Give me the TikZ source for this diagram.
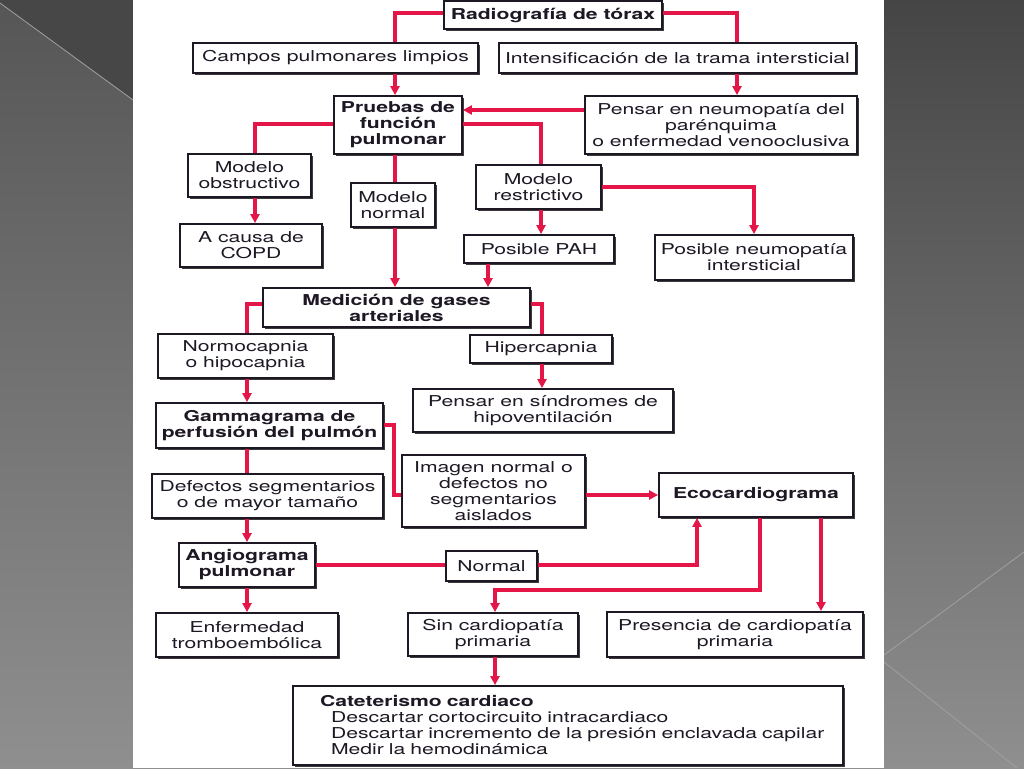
\documentclass[tikz,border=0pt]{standalone}
\usepackage{fontspec}
\setmainfont{TeX Gyre Heros}[FakeStretch=1.41]
\usetikzlibrary{arrows.meta,shadows}
\definecolor{redc}{RGB}{228,22,72}
\definecolor{inkc}{RGB}{30,24,36}
\definecolor{bgtop}{RGB}{69,69,69}
\definecolor{bgbot}{RGB}{143,143,143}
\definecolor{bgltop}{RGB}{86,86,86}
\definecolor{bgdark}{RGB}{71,71,71}
\definecolor{linec}{RGB}{160,160,160}
\begin{document}
\begin{tikzpicture}[x=1pt,y=-1pt,
  box/.style={draw=inkc, line width=1.8pt, fill=white, text=inkc, inner sep=0pt, align=center,
    font=\fontsize{15pt}{16pt}\selectfont,
    drop shadow={shadow xshift=1.8pt, shadow yshift=-1.8pt, fill=black!85, opacity=0.9}},
  bbox/.style={box, font=\fontsize{15pt}{16pt}\selectfont\bfseries},
  conn/.style={draw=redc, line width=3.2pt},
  arr/.style={conn, -{Triangle[length=9pt,width=9pt]}},
  deco/.style={draw=linec, line width=0.8pt}]
\useasboundingbox (0,0) rectangle (1024,768);
% background
\shade[top color=bgtop, bottom color=bgbot] (0,0) rectangle (1024,768);
\fill[bgdark] (0,0) -- (133,0) -- (133,100) -- (0,3) -- cycle;
\shade[top color=bgltop, bottom color=bgbot] (0,3) -- (133,100) -- (133,768) -- (0,768) -- cycle;
\draw[deco] (0,3) -- (133,100);
\draw[deco] (1024,552) -- (884,655);
\draw[deco] (884,662) -- (1017,768);
\fill[white] (133,0) rectangle (884,768);

% nodes
\node[bbox, minimum width=218pt, minimum height=28pt] (rad) at (553,15) {Radiografía de tórax};
\node[box, minimum width=285pt, minimum height=30pt] (campos) at (335.5,58) {Campos pulmonares limpios};
\node[box, minimum width=357pt, minimum height=30pt] (inten) at (677.5,58) {Intensificación de la trama intersticial};
\node[bbox, minimum width=128pt, minimum height=58pt] (pruebas) at (398,125) {Pruebas de\\función\\pulmonar};
\node[box, minimum width=272pt, minimum height=58pt] (pensar) at (721,125) {Pensar en neumopatía del\\parénquima\\o enfermedad venooclusiva};
\node[box, minimum width=123pt, minimum height=43pt] (obstr) at (249.5,175.5) {Modelo\\obstructivo};
\node[box, minimum width=84pt, minimum height=44pt] (normal) at (393,205) {Modelo\\normal};
\node[box, minimum width=125pt, minimum height=44pt] (restr) at (538.5,187) {Modelo\\restrictivo};
\node[box, minimum width=142pt, minimum height=43pt] (copd) at (251,245.5) {A causa de\\COPD};
\node[box, minimum width=150pt, minimum height=28pt] (pah) at (539,249) {Posible PAH};
\node[box, minimum width=198pt, minimum height=45pt] (neumo) at (754,257.5) {Posible neumopatía\\intersticial};
\node[bbox, minimum width=267pt, minimum height=39pt] (medicion) at (396.5,307.5) {Medición de gases\\arteriales};
\node[box, minimum width=175pt, minimum height=44pt] (normo) at (245.5,356) {Normocapnia\\o hipocapnia};
\node[box, minimum width=142pt, minimum height=28pt] (hiper) at (541,349) {Hipercapnia};
\node[box, minimum width=260pt, minimum height=43pt] (sindr) at (543,410.5) {Pensar en síndromes de\\hipoventilación};
\node[bbox, minimum width=227pt, minimum height=45pt] (gamma) at (269.5,425.5) {Gammagrama de\\perfusión del pulmón};
\node[box, minimum width=183pt, minimum height=72pt] (imagen) at (493.5,491) {Imagen normal o\\defectos no\\segmentarios\\aislados};
\node[bbox, minimum width=194pt, minimum height=44pt] (eco) at (756,495) {Ecocardiograma};
\node[box, minimum width=231pt, minimum height=44pt] (defectos) at (267.5,496) {Defectos segmentarios\\o de mayor tamaño};
\node[bbox, minimum width=136pt, minimum height=44pt] (angio) at (247,565) {Angiograma\\pulmonar};
\node[box, minimum width=91pt, minimum height=30pt] (normalB) at (491.5,566) {Normal};
\node[box, minimum width=182pt, minimum height=44pt] (trombo) at (247,635) {Enfermedad\\tromboembólica};
\node[box, minimum width=170pt, minimum height=43pt] (sin) at (493,634.5) {Sin cardiopatía\\primaria};
\node[box, minimum width=256pt, minimum height=45pt] (presencia) at (735,634.5) {Presencia de cardiopatía\\primaria};
\node[box, minimum width=550pt, minimum height=79pt, inner xsep=27pt, text width=496pt, align=left] (cat) at (568,725.5)
  {\mbox{\textbf{Cateterismo cardiaco}}\\\mbox{\hspace*{11pt}Descartar cortocircuito intracardiaco}\\\mbox{\hspace*{11pt}Descartar incremento de la presión enclavada capilar}\\\mbox{\hspace*{11pt}Medir la hemodinámica}};

% guide coordinates
\coordinate (gx247) at (247,0);
\coordinate (gx255) at (255,0);
\coordinate (gx394) at (394,0);
\coordinate (gx395) at (395,0);
\coordinate (gx488) at (488,0);
\coordinate (gx495) at (495,0);
\coordinate (gx541) at (541,0);
\coordinate (gx542) at (542,0);
\coordinate (gx697) at (697,0);
\coordinate (gx737) at (737,0);
\coordinate (gx754) at (754,0);
\coordinate (gx760) at (760,0);
\coordinate (gx821) at (821,0);
\coordinate (gy13) at (0,13);
\coordinate (gy110) at (0,110);
\coordinate (gy124) at (0,124);
\coordinate (gy187) at (0,187);
\coordinate (gy304) at (0,304);
\coordinate (gy425) at (0,425);
\coordinate (gy495) at (0,495);
\coordinate (gy565) at (0,565);
\coordinate (gy590) at (0,590);

% connectors
\draw[conn] (rad.west |- gy13) -| (campos.north -| gx395);
\draw[conn] (rad.east |- gy13) -| (inten.north -| gx737);
\draw[arr] (campos.south -| gx395) -- (pruebas.north -| gx395);
\draw[arr] (inten.south -| gx737) -- (pensar.north -| gx737);
\draw[arr] (pensar.west |- gy110) -- (pruebas.east |- gy110);
\draw[conn] (pruebas.west |- gy124) -| (obstr.north -| gx255);
\draw[conn] (pruebas.east |- gy124) -| (restr.north -| gx541);
\draw[conn] (pruebas.south -| gx395) -- (normal.north -| gx395);
\draw[arr] (obstr.south -| gx255) -- (copd.north -| gx255);
\draw[arr] (normal.south -| gx395) -- (medicion.north -| gx395);
\draw[arr] (restr.south -| gx541) -- (pah.north -| gx541);
\draw[arr] (restr.east |- gy187) -| (neumo.north -| gx754);
\draw[arr] (pah.south -| gx488) -- (medicion.north -| gx488);
\draw[conn] (medicion.west |- gy304) -| (normo.north -| gx247);
\draw[conn] (medicion.east |- gy304) -| (hiper.north -| gx542);
\draw[arr] (normo.south -| gx247) -- (gamma.north -| gx247);
\draw[arr] (hiper.south -| gx542) -- (sindr.north -| gx542);
\draw[conn] (gamma.east |- gy425) -- (gx394 |- gy425) -- (gx394 |- gy495) -- (imagen.west |- gy495);
\draw[arr] (imagen.east |- gy495) -- (eco.west |- gy495);
\draw[conn] (gamma.south -| gx247) -- (defectos.north -| gx247);
\draw[arr] (defectos.south -| gx247) -- (angio.north -| gx247);
\draw[arr] (angio.south -| gx247) -- (trombo.north -| gx247);
\draw[conn] (angio.east |- gy565) -- (normalB.west |- gy565);
\draw[arr] (normalB.east |- gy565) -| (eco.south -| gx697);
\draw[arr] (eco.south -| gx760) -- (gx760 |- gy590) -| (sin.north -| gx495);
\draw[arr] (eco.south -| gx821) -- (presencia.north -| gx821);
\draw[arr] (sin.south -| gx495) -- (cat.north -| gx495);
\end{tikzpicture}
\end{document}
